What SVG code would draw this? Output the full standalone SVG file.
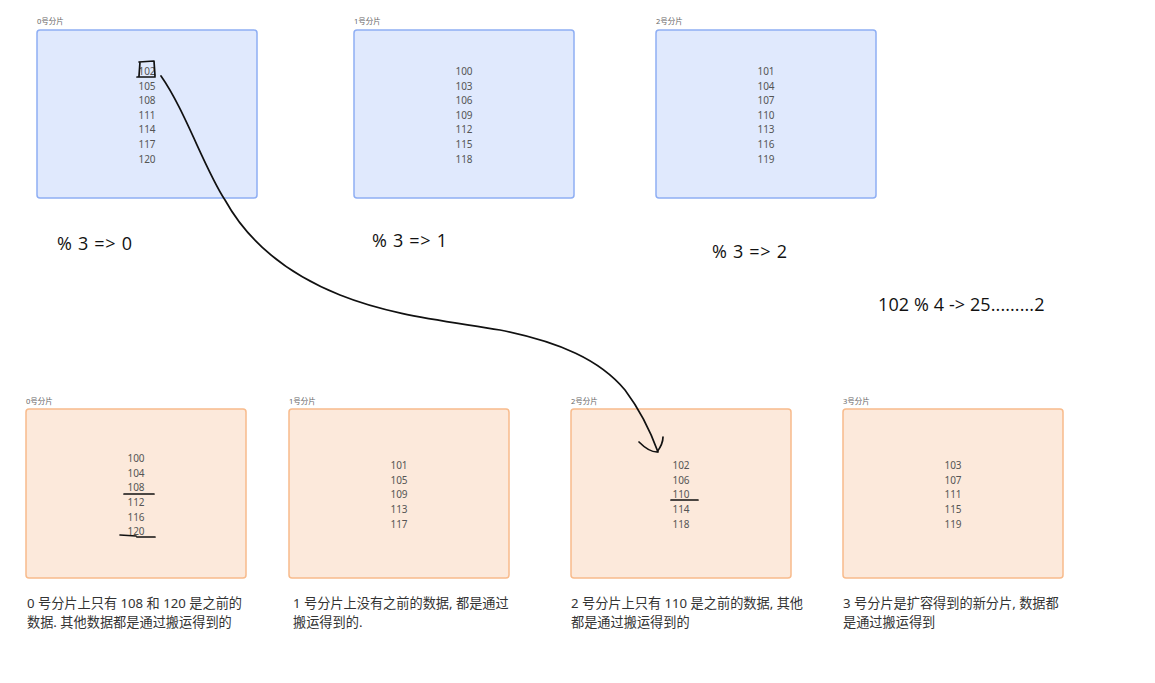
<svg xmlns="http://www.w3.org/2000/svg" width="1155" height="683" viewBox="0 0 1155 683">
<style>
.top{fill:#e0e9fd;stroke:#8eaef4;stroke-width:1.5}
.bot{fill:#fce9db;stroke:#f8bb8c;stroke-width:1.5}
.lbl{font-family:"Noto Sans","Noto Sans CJK SC",sans-serif;font-size:7.5px;fill:#666}
.num{font-family:"Noto Sans","Noto Sans CJK SC",sans-serif;font-size:10px;fill:#555;text-anchor:middle}
.mod{font-family:"Open Sans","Noto Sans",sans-serif;font-size:18px;fill:#111;letter-spacing:0.7px}
.mod2{font-family:"Open Sans","Noto Sans",sans-serif;font-size:18px;fill:#111;letter-spacing:0.1px}
.desc{font-family:"Noto Sans","Noto Sans CJK SC",sans-serif;font-size:13.2px;fill:#333}
.ink{fill:none;stroke:#111;stroke-width:1.7;stroke-linecap:round;stroke-linejoin:round}
</style>
<rect width="1155" height="683" fill="#fff"/>
<g id="top0">
<text class="lbl" x="37" y="24">0号分片</text>
<rect class="top" x="37" y="30" width="220" height="168" rx="3"/>
<text class="num" x="147" y="75">102</text><text class="num" x="147" y="90">105</text><text class="num" x="147" y="104">108</text><text class="num" x="147" y="119">111</text><text class="num" x="147" y="133">114</text><text class="num" x="147" y="148">117</text><text class="num" x="147" y="163">120</text>
</g>
<g id="top1">
<text class="lbl" x="354" y="24">1号分片</text>
<rect class="top" x="354" y="30" width="220" height="168" rx="3"/>
<text class="num" x="464" y="75">100</text><text class="num" x="464" y="90">103</text><text class="num" x="464" y="104">106</text><text class="num" x="464" y="119">109</text><text class="num" x="464" y="133">112</text><text class="num" x="464" y="148">115</text><text class="num" x="464" y="163">118</text>
</g>
<g id="top2">
<text class="lbl" x="656" y="24">2号分片</text>
<rect class="top" x="656" y="30" width="220" height="168" rx="3"/>
<text class="num" x="766" y="75">101</text><text class="num" x="766" y="90">104</text><text class="num" x="766" y="104">107</text><text class="num" x="766" y="119">110</text><text class="num" x="766" y="133">113</text><text class="num" x="766" y="148">116</text><text class="num" x="766" y="163">119</text>
</g>
<g id="mods">
<text class="mod" x="57" y="250">% 3 =&gt; 0</text>
<text class="mod" x="372" y="247">% 3 =&gt; 1</text>
<text class="mod" x="712" y="258">% 3 =&gt; 2</text>
<text class="mod2" x="878" y="311">102 % 4 -&gt; 25.........2</text>
</g>
<g id="bot0">
<text class="lbl" x="26" y="404">0号分片</text>
<rect class="bot" x="26" y="409" width="220" height="169" rx="3"/>
<text class="num" x="136" y="462">100</text><text class="num" x="136" y="477">104</text><text class="num" x="136" y="491">108</text><text class="num" x="136" y="506">112</text><text class="num" x="136" y="521">116</text><text class="num" x="136" y="535">120</text>
<text class="desc" x="27" y="608">0 号分片上只有 108 和 120 是之前的</text>
<text class="desc" x="27" y="627">数据. 其他数据都是通过搬运得到的</text>
</g>
<g id="bot1">
<text class="lbl" x="289" y="404">1号分片</text>
<rect class="bot" x="289" y="409" width="220" height="169" rx="3"/>
<text class="num" x="399" y="469">101</text><text class="num" x="399" y="484">105</text><text class="num" x="399" y="498">109</text><text class="num" x="399" y="513">113</text><text class="num" x="399" y="528">117</text>
<text class="desc" x="293" y="608">1 号分片上没有之前的数据, 都是通过</text>
<text class="desc" x="293" y="627">搬运得到的.</text>
</g>
<g id="bot2">
<text class="lbl" x="571" y="404">2号分片</text>
<rect class="bot" x="571" y="409" width="220" height="169" rx="3"/>
<text class="num" x="681" y="469">102</text><text class="num" x="681" y="484">106</text><text class="num" x="681" y="498">110</text><text class="num" x="681" y="513">114</text><text class="num" x="681" y="528">118</text>
<text class="desc" x="571" y="608">2 号分片上只有 110 是之前的数据, 其他</text>
<text class="desc" x="571" y="627">都是通过搬运得到的</text>
</g>
<g id="bot3">
<text class="lbl" x="843" y="404">3号分片</text>
<rect class="bot" x="843" y="409" width="220" height="169" rx="3"/>
<text class="num" x="953" y="469">103</text><text class="num" x="953" y="484">107</text><text class="num" x="953" y="498">111</text><text class="num" x="953" y="513">115</text><text class="num" x="953" y="528">119</text>
<text class="desc" x="843" y="608">3 号分片是扩容得到的新分片, 数据都</text>
<text class="desc" x="843" y="627">是通过搬运得到</text>
</g>
<g id="connectors">
<path class="ink" d="M139 62 L154 61 L155 76 M137 77 L155 77 M140 62 L139 76"/>
<path class="ink" d="M124 494 L154 494 M120 535 L136 536 M137 537 L155 537 M671 500 L698 500"/>
<path class="ink" d="M161 76 C185 110 205 170 225 200 C250 245 290 275 340 295 C390 315 440 320 500 330 C560 342 600 360 625 390 C640 410 650 430 658 452"/>
<path class="ink" d="M639 442 C645 448 650 452 657 452 C660 448 663 444 663 437"/>
</g>
</svg>
